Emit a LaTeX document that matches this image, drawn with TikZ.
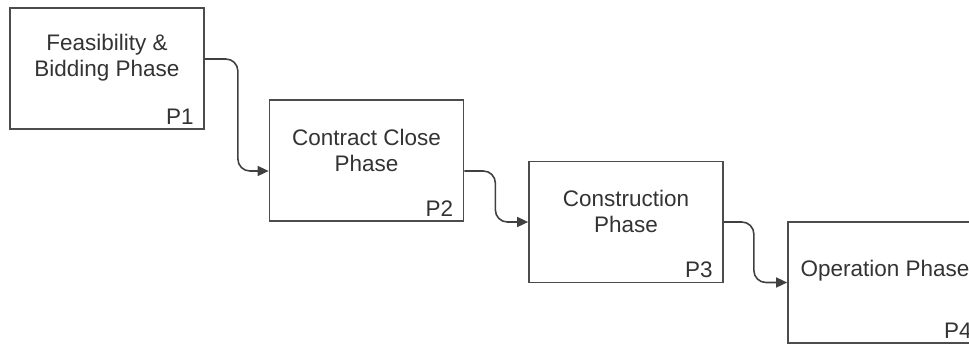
\documentclass[tikz,border=0pt]{standalone}
\usepackage{fontspec}
\setmainfont{Liberation Sans}
\usetikzlibrary{calc,arrows.meta}

\tikzset{
  phase/.style={draw=black!70, line width=1pt, minimum width=3.88cm, minimum height=2.42cm, inner sep=0pt},
  ptitle/.style={align=center, text=black!80, font=\fontsize{12.8}{14.8}\selectfont},
  plabel/.style={anchor=south east, inner sep=0pt, xshift=-0.22cm, yshift=0.11cm, text=black!80, font=\fontsize{12.8}{14.8}\selectfont},
  flow/.style={draw=black!75, line width=0.9pt, rounded corners=0.24cm, -{Triangle[length=2.2mm,width=2mm]}}
}

\begin{document}
\begin{tikzpicture}[x=0.02cm,y=-0.02cm]
\useasboundingbox (0,0) rectangle (969,345);

% phase boxes
\node[phase, label={[plabel]south east:P1}] (p1) at (107,68.5) {};
\node[phase, label={[plabel]south east:P2}] (p2) at (366.5,160.5) {};
\node[phase, label={[plabel]south east:P3}] (p3) at (626,222) {};
\node[phase, label={[plabel]south east:P4}] (p4) at (885,282.5) {};

% titles
\node[ptitle] (t1) at ($(p1.center)+(0,-10.5)$) {Feasibility \&\\Bidding Phase};
\node[ptitle] (t2) at ($(p2.center)+(0,-10.5)$) {Contract Close\\Phase};
\node[ptitle] (t3) at ($(p3.center)+(0,-10.5)$) {Construction\\Phase};
\node[ptitle] (t4) at ($(p4.center)+(0,-12)$) {Operation Phase};

% connectors
\draw[flow] ($(p1.east)+(0,-9.5)$) -- ++(33,0) |- ($(p2.west)+(0,10.5)$);
\draw[flow] ($(p2.east)+(0,10.5)$) -- ++(31,0) |- (p3.west);
\draw[flow] (p3.east) -- ++(30,0) |- (p4.west);

\end{tikzpicture}
\end{document}
